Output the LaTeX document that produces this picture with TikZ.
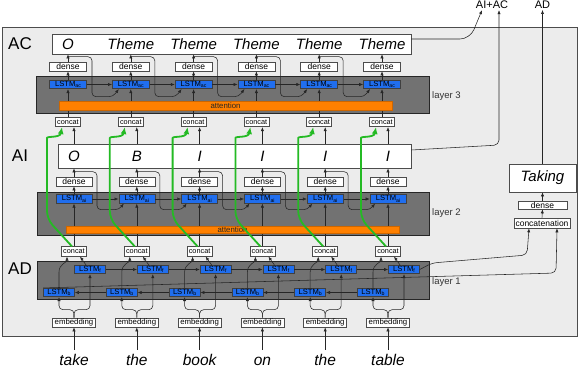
\documentclass[tikz,border=0pt]{standalone}
\usepackage{fontspec}
\setmainfont{Liberation Sans}
\usetikzlibrary{arrows.meta}
\definecolor{panelgray}{RGB}{236,236,236}
\definecolor{bandgray}{RGB}{114,114,114}
\definecolor{lstmblue}{RGB}{32,110,238}
\definecolor{attorange}{RGB}{255,128,0}
\definecolor{skipgreen}{RGB}{36,186,36}
\newcommand{\fsz}[1]{\fontsize{#1}{#1}\selectfont}
\newcommand{\lsub}[1]{\raisebox{-1.3pt}{\fsz{5.2}#1}}
\tikzset{
  wbox/.style={draw=black!70, fill=white, line width=0.6pt, inner sep=0pt},
  densebox/.style={wbox, minimum width=37pt, minimum height=9pt, font=\fsz{8.5}},
  concatbox/.style={wbox, minimum width=25pt, minimum height=9.5pt, font=\fsz{7.3}},
  embbox/.style={wbox, minimum width=43pt, minimum height=9pt, font=\fsz{7.8}},
  lstmbox/.style={draw=black!75, fill=lstmblue, line width=0.6pt, inner sep=0pt, minimum height=8.5pt, font=\fsz{7.6}},
  bandbox/.style={draw=black!85, fill=bandgray, line width=0.6pt},
  attbar/.style={fill=attorange, draw=attorange!80!black, line width=0.3pt, inner sep=0pt, minimum height=8.5pt, text=black!85, font=\fsz{7.8}},
  outlbl/.style={font=\fsz{15}\itshape, inner sep=0pt},
  wordlbl/.style={font=\fsz{15.5}\itshape, inner sep=0pt, text height=15pt, text depth=0pt, anchor=base},
  rowlbl/.style={font=\fsz{17}, inner sep=0pt},
  layerlbl/.style={font=\fsz{9.5}, text=black!80, anchor=west, inner sep=0pt},
  arr/.style={-{Latex[length=4pt,width=3.2pt]}, line width=0.55pt, draw=black!85},
  garr/.style={-{Latex[length=7pt,width=6pt]}, line width=1.8pt, draw=skipgreen, rounded corners=8pt},
}
\begin{document}
\begin{tikzpicture}[x=1pt, y=-1pt]
\useasboundingbox (0,0) rectangle (580,368);
% panel and bands
\draw[draw=black!70, fill=panelgray, line width=0.6pt] (2,27) rectangle (577,336);
\draw[bandbox] (36,76) rectangle (429,113);
\draw[bandbox] (37,192) rectangle (429,235);
\draw[bandbox] (37,261) rectangle (429,299);
% big boxes
\node[wbox, minimum width=359pt, minimum height=20pt] (acbox) at (231.5,44) {};
\node[wbox, minimum width=353pt, minimum height=24pt] (aibox) at (234.5,156) {};
\node[rowlbl] (rac) at (20,44) {AC};
\node[rowlbl] (rai) at (20,156) {AI};
\node[rowlbl] (rad) at (20,269) {AD};
\node[layerlbl] (ly3) at (432,96) {layer 3};
\node[layerlbl] (ly2) at (432,213) {layer 2};
\node[layerlbl] (ly1) at (432,282) {layer 1};
% column nodes
\foreach \i/\wrd/\ai/\ac in {1/take/O/O, 2/the/B/Theme, 3/book/I/Theme, 4/on/I/Theme, 5/the/I/Theme, 6/table/I/Theme}{
  \pgfmathsetmacro\c{74+62.8*(\i-1)}
  \pgfmathsetmacro\cc{\c-6}
  \node[outlbl] (acl\i) at (\cc,44) {\ac};
  \node[densebox] (dac\i) at (\cc,66.5) {dense};
  \node[lstmbox, minimum width=37pt] (lac\i) at (\cc,84.5) {LSTM\lsub{ac}};
  \node[concatbox] (cc3\i) at (\cc,122) {concat};
  \node[outlbl] (ail\i) at (\c,156) {\ai};
  \node[densebox, minimum width=36pt] (dai\i) at (\c,181.5) {dense};
  \node[lstmbox, minimum width=36pt] (lai\i) at (\c,199) {LSTM\lsub{ai}};
  \node[concatbox] (cad\i) at (\c,251.5) {concat};
  \node[lstmbox, minimum width=31pt] (lf\i) at (\c+16,269.5) {LSTM\lsub{f}};
  \node[lstmbox, minimum width=31pt] (lb\i) at (\c-15,292.5) {LSTM\lsub{b}};
  \node[embbox] (emb\i) at (\c,322.5) {embedding};
  \node[wordlbl] (w\i) at (\c,365) {\wrd};
}
% right part
\node[wbox, minimum width=67pt, minimum height=28pt, font=\fsz{15}\itshape] (taking) at (542.5,178) {Taking};
\node[densebox, minimum width=49pt, minimum height=8pt] (rdense) at (542.5,205) {dense};
\node[wbox, minimum width=56pt, minimum height=10pt, font=\fsz{8.5}] (rconc) at (542,223) {concatenation};
\node[font=\fsz{11}, inner sep=1.5pt] (aiac) at (492,4.5) {AI+AC};
\node[font=\fsz{11}, inner sep=1.5pt] (adl) at (542.5,4.5) {AD};
% vertical flow
\foreach \i in {1,...,6}{
  \draw[arr] (w\i.north) -- (emb\i.south);
  \draw[arr, rounded corners=4pt] (emb\i.north) -- ++(0,-8) -| (lb\i.south);
  \draw[arr, rounded corners=4pt] (emb\i.north) -- ++(0,-8) -| (lf\i.south);
  \draw[arr] (lb\i.north) -- ++(0,-16) .. controls +(0,-8) and +(0,6) .. ([xshift=-7pt]cad\i.south);
  \draw[arr] ([xshift=-4pt]lf\i.north) -- ([xshift=6pt]cad\i.south);
  \draw[arr] (cad\i.north) -- (lai\i.south);
  \draw[arr] (lai\i.north) -- (dai\i.south);
  \draw[arr] (dai\i.north) -- (dai\i.north |- aibox.south);
  \draw[arr] (ail\i |- aibox.north) -- (ail\i |- cc3\i.south);
  \draw[arr] (cc3\i.north) -- (lac\i.south);
  \draw[arr] (lac\i.north) -- (dac\i.south);
  \draw[arr] (dac\i.north) -- (dac\i.north |- acbox.south);
}
% recurrent chains and feedback
\foreach \i/\j in {1/2,2/3,3/4,4/5,5/6}{
  \draw[arr] (lf\i.east) -- (lf\j.west);
  \draw[arr] (lb\j.west) -- (lb\i.east);
  \draw[arr] (lai\i.east) -- (lai\j.west);
  \draw[arr] (lac\i.east) -- (lac\j.west);
  \draw[arr, rounded corners=4pt] ([yshift=5pt]dai\i.north) -- ++(23,0) -- ++(0,38) -- ++(22,0) -- ([xshift=-13pt]lai\j.south);
  \draw[arr, rounded corners=4pt] ([yshift=5pt]dac\i.north) -- ++(24,0) -- ++(0,40) -- ++(21,0) -- ([xshift=-12pt]lac\j.south);
}
% right side connections
\draw[arr, rounded corners=5pt] (lf6.east) -- (432,263) -- (527,255) -- ([xshift=-13pt]rconc.south);
\draw[arr, rounded corners=5pt] (lb1.north west) -- (556,273) -- ([xshift=15pt]rconc.south);
\draw[arr] (rconc.north) -- (rdense.south);
\draw[arr] (rdense.north) -- (taking.south);
\draw[arr] (taking.north) -- (adl.south);
\draw[arr, rounded corners=10pt] ([yshift=5pt]acbox.east) -- (470,39) -- ([xshift=-10pt]aiac.south);
\draw[arr, rounded corners=5pt] ([yshift=6pt]aibox.east) -- (499,145) -- ([xshift=7pt]aiac.south);
% attention bars
\node[attbar, minimum width=333pt] (att3) at (225.5,105.5) {attention};
\node[attbar, minimum width=333pt, minimum height=7.5pt] (att2) at (232.5,229.5) {attention};
% skip connections
\foreach \i in {1,...,6}{
  \pgfmathsetmacro\c{74+62.8*(\i-1)}
  \draw[garr] ([xshift=-2pt]cad\i.north) -- (\c-27,219) -- (\c-27,146) .. controls (\c-27,136) and (\c-14,138) .. ([xshift=-6pt]cc3\i.south);
}
\end{tikzpicture}
\end{document}
